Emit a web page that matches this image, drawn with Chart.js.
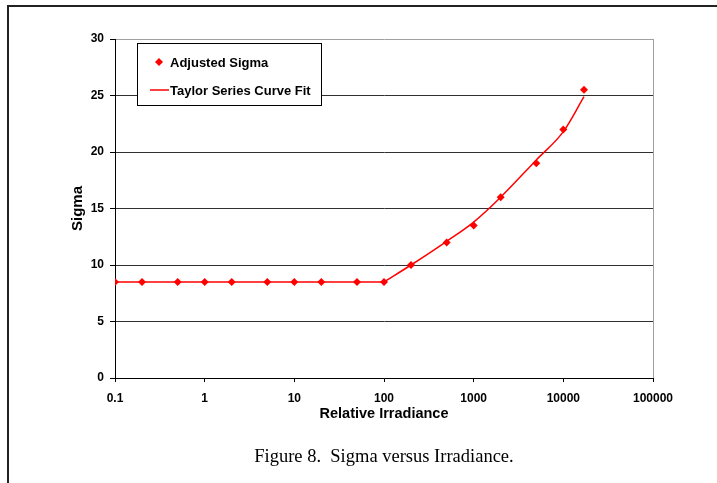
<!DOCTYPE html>
<html>
<head>
<meta charset="utf-8">
<script src="https://cdn.jsdelivr.net/npm/chart.js@4.4.0/dist/chart.umd.min.js"></script>
<style>
  html, body { margin: 0; padding: 0; background: #fff; overflow: hidden; }
  #frame { position: absolute; left: 7px; top: 5px; width: 800px; height: 600px;
           border-left: 2px solid #222; border-top: 2px solid #222; }
  #wrap { position: absolute; left: 0; top: 0; width: 717px; height: 483px; }
  #caption { position: absolute; left: 0; width: 768px; top: 446px; text-align: center;
             font-family: "Liberation Serif", "Times New Roman", serif; font-size: 18.5px; color: #000; }
</style>
</head>
<body>
<div id="frame"></div>
<div id="wrap"><canvas id="myChart" width="717" height="483"></canvas></div>
<div id="caption">Figure 8.&nbsp; Sigma versus Irradiance.</div>
<script>
const irradiance = [0.1, 0.2, 0.5, 1, 2, 5, 10, 20, 50, 100, 200, 500, 1000, 2000, 5000, 10000, 17000];
const adjustedSigma = [8.5, 8.5, 8.5, 8.5, 8.5, 8.5, 8.5, 8.5, 8.5, 8.5, 10.0, 12.0, 13.5, 16.0, 19.0, 22.0, 25.5];
const fitSigma = [8.5, 8.5, 8.5, 8.5, 8.5, 8.5, 8.5, 8.5, 8.5, 8.5, 10.0, 12.1, 13.8, 16.0, 19.3, 21.8, 24.9];
const xTicks = [0.1, 1, 10, 100, 1000, 10000, 100000];
const xTickLabels = ['0.1', '1', '10', '100', '1000', '10000', '100000'];

(() => {
    const ctx = document.getElementById('myChart').getContext('2d');
    const tickFont = { family: 'Liberation Sans', size: 12, weight: 'bold' };
    const titleFont = { family: 'Liberation Sans', size: 14.5, weight: 'bold' };
    const kink = irradiance.indexOf(100);
    const fitPoints = irradiance.map((x, i) => ({ x: x, y: fitSigma[i] }));

    // legend box sits inside the plot, top left
    const boxLegend = {
        id: 'boxLegend',
        afterDraw(chart) {
            const c = chart.ctx;
            c.save();
            c.fillStyle = '#fff';
            c.fillRect(137, 43, 184, 62);
            c.strokeStyle = '#000';
            c.lineWidth = 1;
            c.strokeRect(137.5, 43.5, 184, 62);
            c.fillStyle = '#ff0000';
            c.beginPath();
            c.moveTo(159, 58); c.lineTo(163, 62); c.lineTo(159, 66); c.lineTo(155, 62);
            c.closePath();
            c.fill();
            c.strokeStyle = '#ff0000';
            c.lineWidth = 1.5;
            c.beginPath();
            c.moveTo(150, 90); c.lineTo(169, 90);
            c.stroke();
            c.fillStyle = '#000';
            c.font = 'bold 13px "Liberation Sans"';
            c.textBaseline = 'middle';
            c.fillText('Adjusted Sigma', 170, 63);
            c.fillText('Taylor Series Curve Fit', 170, 91);
            c.restore();
        }
    };

    const fitLine = {
        borderColor: '#ff0000',
        borderWidth: 1.5,
        pointRadius: 0,
        fill: false
    };

    new Chart(ctx, {
        type: 'line',
        data: {
            datasets: [
                {
                    label: 'Adjusted Sigma',
                    data: irradiance.map((x, i) => ({ x: x, y: adjustedSigma[i] })),
                    showLine: false,
                    pointStyle: 'rectRot',
                    pointRadius: 4,
                    pointBackgroundColor: '#ff0000',
                    pointBorderColor: '#ff0000',
                    pointBorderWidth: 0
                },
                Object.assign({ label: 'Taylor Series Curve Fit', data: fitPoints.slice(0, kink + 1), tension: 0 }, fitLine),
                Object.assign({ label: 'Taylor Series Curve Fit', data: fitPoints.slice(kink), cubicInterpolationMode: 'monotone' }, fitLine)
            ]
        },
        options: {
            responsive: false,
            animation: false,
            layout: { padding: { left: 69, top: 39, right: 64, bottom: 60 } },
            scales: {
                x: {
                    type: 'logarithmic',
                    min: 0.1,
                    max: 100000,
                    afterBuildTicks: axis => { axis.ticks = xTicks.map(v => ({ value: v })); },
                    afterFit: scale => { scale.height = 45; },
                    ticks: {
                        color: '#000',
                        font: tickFont,
                        maxRotation: 0,
                        autoSkip: false,
                        padding: 9,
                        callback: (v) => xTickLabels[xTicks.indexOf(v)]
                    },
                    grid: {
                        color: c => c.index === xTicks.length - 1 ? '#a0a0a0' : 'rgba(0,0,0,0)',
                        tickColor: '#000',
                        tickLength: 4,
                        drawOnChartArea: true
                    },
                    border: { color: '#000', width: 1 },
                    title: {
                        display: true,
                        text: 'Relative Irradiance',
                        color: '#000',
                        font: titleFont,
                        padding: { top: 4, bottom: 0 }
                    }
                },
                y: {
                    min: 0,
                    max: 30,
                    afterFit: scale => { scale.width = 46; },
                    ticks: { stepSize: 5, color: '#000', font: tickFont, padding: 6 },
                    grid: {
                        color: c => c.tick.value === 30 ? '#a0a0a0' : '#303030',
                        tickColor: '#000',
                        tickLength: 5
                    },
                    border: { color: '#000', width: 1 },
                    title: {
                        display: true,
                        text: 'Sigma',
                        color: '#000',
                        font: Object.assign({}, titleFont, { size: 15 }),
                        padding: 0
                    }
                }
            },
            plugins: {
                legend: { display: false },
                tooltip: { enabled: false }
            }
        },
        plugins: [boxLegend]
    });
})()
</script>
</body>
</html>
